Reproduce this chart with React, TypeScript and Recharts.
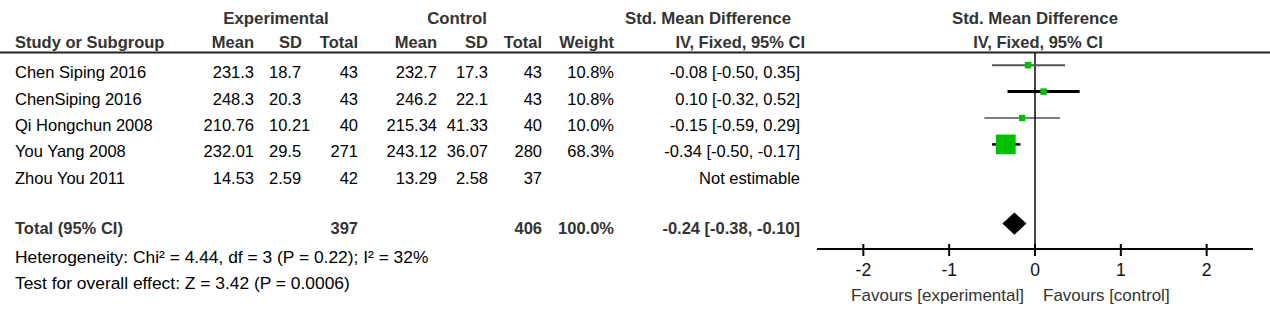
import React from "react";
import { ScatterChart, Scatter, XAxis, YAxis, ReferenceLine, ReferenceArea } from "recharts";

// study rows
const studies = ["Chen Siping 2016", "ChenSiping 2016", "Qi Hongchun 2008", "You Yang 2008", "Zhou You 2011"];
const expMean = ["231.3", "248.3", "210.76", "232.01", "14.53"];
const expSd = ["18.7", "20.3", "10.21", "29.5", "2.59"];
const expTotal = [43, 43, 40, 271, 42];
const ctlMean = ["232.7", "246.2", "215.34", "243.12", "13.29"];
const ctlSd = ["17.3", "22.1", "41.33", "36.07", "2.58"];
const ctlTotal = [43, 43, 40, 280, 37];
const weights: (number | null)[] = [10.8, 10.8, 10.0, 68.3, null];
const smd: (number | null)[] = [-0.08, 0.1, -0.15, -0.34, null];
const ciLow: (number | null)[] = [-0.5, -0.32, -0.59, -0.5, null];
const ciHigh: (number | null)[] = [0.35, 0.52, 0.29, -0.17, null];

// pooled result
const totalExp = 397;
const totalCtl = 406;
const totalWeight = 100.0;
const pooled = -0.24;
const pooledLow = -0.38;
const pooledHigh = -0.1;
const heterogeneity = "Heterogeneity: Chi² = 4.44, df = 3 (P = 0.22); I² = 32%";
const overallEffect = "Test for overall effect: Z = 3.42 (P = 0.0006)";

const axisTicks = [-2, -1, 0, 1, 2];
const axisDomain = [-2.54, 2.54];

// layout
const W = 1270;
const H = 316;
const PLOT_TOP = 52;
const AXIS_Y = 249;
const ROW_H = 26.4;
const PLOT_LEFT = 817;
const PLOT_RIGHT = 17;
const X_AXIS_H = 40;
const TOTAL_ROW = 6.5;
const FONT = "'Liberation Sans', Arial, sans-serif";

const ciStroke = [
  { stroke: "#555", width: 2 },
  { stroke: "#000", width: 3 },
  { stroke: "#000", width: 1.2 },
  { stroke: "#000", width: 2.5 },
];

const fmt2 = (v: number) => v.toFixed(2);
const ciText = (e: number, lo: number, hi: number) => `${fmt2(e)} [${fmt2(lo)}, ${fmt2(hi)}]`;

const squares = smd
  .map((v, i) => (v === null ? null : { x: v, y: i + 0.5, w: weights[i] as number }))
  .filter(Boolean) as { x: number; y: number; w: number }[];

// square side grows with the study weight
function StudySquare(props: any) {
  const { cx, cy, payload } = props;
  const s = 4 + 0.23 * payload.w;
  return <rect x={cx - s / 2} y={cy - s / 2} width={s} height={s} fill="#00c000" />;
}

function PooledDiamond(props: any) {
  const { x, y, width, height } = props;
  const top = Math.min(y, y + height);
  const h = Math.abs(height);
  const mid = top + h / 2;
  const cx = x + (width * (pooled - pooledLow)) / (pooledHigh - pooledLow);
  const pts = `${x},${mid} ${cx},${top} ${x + width},${mid} ${cx},${top + h}`;
  return <polygon points={pts} fill="#000" />;
}

function AxisTick(props: any) {
  const { x, y, payload } = props;
  return (
    <g>
      <line x1={x} x2={x} y1={y - 5} y2={y + 7} stroke="#000" strokeWidth={2} />
      <text x={x} y={y + 27} textAnchor="middle" fontSize={17.5} fill="#111" fontFamily={FONT}>
        {payload.value}
      </text>
    </g>
  );
}

type Cell = { text: string | number; x: number; anchor: "start" | "middle" | "end" };

function TableText() {
  const rowBase = (i: number) => PLOT_TOP + (i + 0.5) * ROW_H + 13;
  const totalBase = PLOT_TOP + TOTAL_ROW * ROW_H + 10;
  const zeroX = PLOT_LEFT + ((0 - axisDomain[0]) / (axisDomain[1] - axisDomain[0])) * (W - PLOT_LEFT - PLOT_RIGHT);

  const rowCells = (i: number): Cell[] => {
    const cells: Cell[] = [
      { text: studies[i], x: 15, anchor: "start" },
      { text: expMean[i], x: 254, anchor: "end" },
      { text: expSd[i], x: 269, anchor: "start" },
      { text: expTotal[i], x: 358, anchor: "end" },
      { text: ctlMean[i], x: 437, anchor: "end" },
      { text: ctlSd[i], x: 488, anchor: "end" },
      { text: ctlTotal[i], x: 542, anchor: "end" },
    ];
    const w = weights[i];
    const e = smd[i];
    if (w !== null && e !== null) {
      cells.push({ text: `${w.toFixed(1)}%`, x: 614, anchor: "end" });
      cells.push({ text: ciText(e, ciLow[i] as number, ciHigh[i] as number), x: 800, anchor: "end" });
    } else {
      cells.push({ text: "Not estimable", x: 800, anchor: "end" });
    }
    return cells;
  };

  const head1: Cell[] = [
    { text: "Experimental", x: 276, anchor: "middle" },
    { text: "Control", x: 457, anchor: "middle" },
    { text: "Std. Mean Difference", x: 708, anchor: "middle" },
    { text: "Std. Mean Difference", x: zeroX, anchor: "middle" },
  ];
  const head2: Cell[] = [
    { text: "Study or Subgroup", x: 15, anchor: "start" },
    { text: "Mean", x: 254, anchor: "end" },
    { text: "SD", x: 302, anchor: "end" },
    { text: "Total", x: 358, anchor: "end" },
    { text: "Mean", x: 437, anchor: "end" },
    { text: "SD", x: 488, anchor: "end" },
    { text: "Total", x: 542, anchor: "end" },
    { text: "Weight", x: 614, anchor: "end" },
    { text: "IV, Fixed, 95% CI", x: 805, anchor: "end" },
    { text: "IV, Fixed, 95% CI", x: zeroX + 3, anchor: "middle" },
  ];
  const totalCells: Cell[] = [
    { text: "Total (95% CI)", x: 15, anchor: "start" },
    { text: totalExp, x: 358, anchor: "end" },
    { text: totalCtl, x: 542, anchor: "end" },
    { text: `${totalWeight.toFixed(1)}%`, x: 614, anchor: "end" },
    { text: ciText(pooled, pooledLow, pooledHigh), x: 800, anchor: "end" },
  ];

  const bold = { fontWeight: 700, fill: "#333" };
  return (
    <svg
      width={W}
      height={H}
      style={{ position: "absolute", left: 0, top: 0, pointerEvents: "none" }}
      fontFamily={FONT}
      fontSize={16.5}
    >
      {head1.map((c, k) => (
        <text key={`h1${k}`} x={c.x} y={24} textAnchor={c.anchor} fontSize={16.8} {...bold}>
          {c.text}
        </text>
      ))}
      {head2.map((c, k) => (
        <text key={`h2${k}`} x={c.x} y={48} textAnchor={c.anchor} {...bold}>
          {c.text}
        </text>
      ))}
      <line x1={0} x2={W} y1={PLOT_TOP + 0.5} y2={PLOT_TOP + 0.5} stroke="#222" strokeWidth={2} />
      {studies.map((_, i) =>
        rowCells(i).map((c, k) => (
          <text key={`r${i}-${k}`} x={c.x} y={rowBase(i)} textAnchor={c.anchor} fill="#000">
            {c.text}
          </text>
        ))
      )}
      {totalCells.map((c, k) => (
        <text key={`t${k}`} x={c.x} y={totalBase} textAnchor={c.anchor} {...bold}>
          {c.text}
        </text>
      ))}
      <text x={15} y={263} fontSize={17.4} fill="#000">
        {heterogeneity}
      </text>
      <text x={15} y={289} fontSize={17.4} fill="#000">
        {overallEffect}
      </text>
      <text x={zeroX - 11} y={301} textAnchor="end" fontSize={17} fill="#333">
        Favours [experimental]
      </text>
      <text x={zeroX + 8} y={301} textAnchor="start" fontSize={17} fill="#333">
        Favours [control]
      </text>
    </svg>
  );
}

export default function App() {
  const yMax = (AXIS_Y - PLOT_TOP) / ROW_H;
  return (
    <div style={{ position: "absolute", left: 0, top: 0, width: W, height: H, background: "#fff" }}>
      <ScatterChart
        width={W}
        height={H}
        margin={{ top: PLOT_TOP, right: PLOT_RIGHT, bottom: H - AXIS_Y - X_AXIS_H, left: PLOT_LEFT }}
      >
        <XAxis
          type="number"
          dataKey="x"
          domain={axisDomain}
          allowDataOverflow
          ticks={axisTicks}
          interval={0}
          height={X_AXIS_H}
          tickLine={false}
          tickSize={0}
          tickMargin={0}
          axisLine={{ stroke: "#000", strokeWidth: 2 }}
          tick={<AxisTick />}
        />
        <YAxis type="number" dataKey="y" domain={[0, yMax]} reversed hide />
        <ReferenceLine x={0} stroke="#444" strokeWidth={2} />
        {smd.map((v, i) =>
          v === null ? null : (
            <ReferenceLine
              key={`ci${i}`}
              segment={[
                { x: ciLow[i] as number, y: i + 0.5 },
                { x: ciHigh[i] as number, y: i + 0.5 },
              ]}
              stroke={ciStroke[i].stroke}
              strokeWidth={ciStroke[i].width}
            />
          )
        )}
        <ReferenceArea
          x1={pooledLow}
          x2={pooledHigh}
          y1={TOTAL_ROW - 0.42}
          y2={TOTAL_ROW + 0.42}
          shape={<PooledDiamond />}
        />
        <Scatter data={squares} shape={<StudySquare />} isAnimationActive={false} />
      </ScatterChart>
      <TableText />
    </div>
  );
}
